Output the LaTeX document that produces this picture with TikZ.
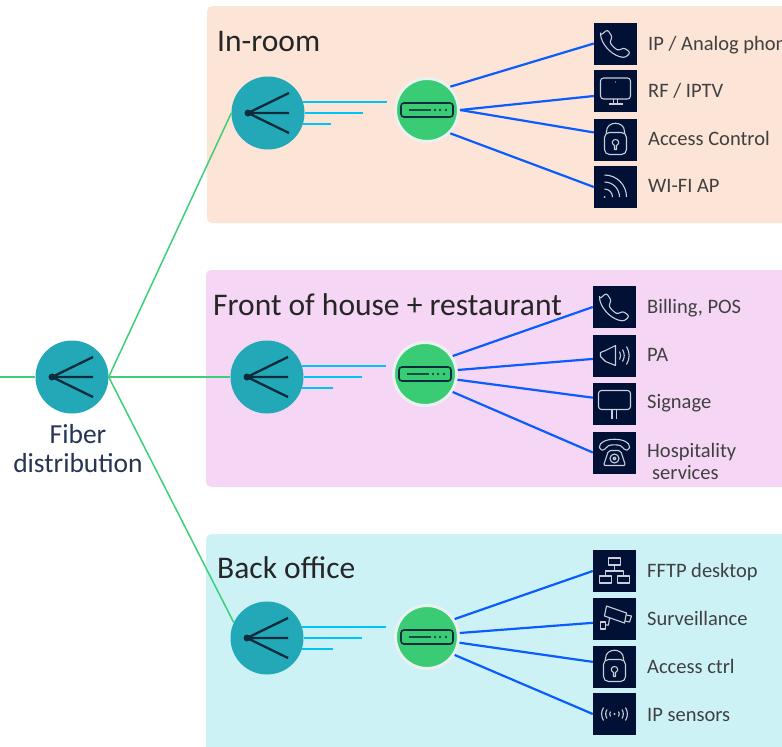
\documentclass[tikz,border=0pt]{standalone}
\usepackage{fontspec}
\setmainfont{Carlito}
\definecolor{roomfill}{HTML}{FCE4D6}
\definecolor{housefill}{HTML}{F6D6F5}
\definecolor{officefill}{HTML}{CDF2F6}
\definecolor{splitfill}{HTML}{22A8B6}
\definecolor{ontfill}{HTML}{3ACC74}
\definecolor{ontring}{HTML}{EBF1F1}
\definecolor{glyphdark}{HTML}{0C2B3C}
\definecolor{feedgreen}{HTML}{3CCF78}
\definecolor{dropcyan}{HTML}{00C4F5}
\definecolor{linkblue}{HTML}{0A5CFF}
\definecolor{iconnavy}{HTML}{001135}
\definecolor{iconline}{HTML}{C9CEDA}
\tikzset{
  panel/.style={rounded corners=5pt},
  splitter/.style={circle, fill=splitfill, minimum size=73pt, inner sep=0pt},
  ont/.style={circle, fill=ontfill, draw=ontring, line width=3pt, minimum size=63pt, inner sep=0pt},
  iconbox/.style={rectangle, fill=iconnavy, minimum width=43pt, minimum height=42pt, inner sep=0pt},
  feed/.style={feedgreen, line width=1.5pt},
  drop/.style={dropcyan, line width=2pt},
  link/.style={linkblue, line width=2.2pt},
  iconstroke/.style={iconline, line width=1.1pt, line join=round},
  title/.style={anchor=base west, inner sep=0pt, text=black!85, font=\fontsize{31.5}{36}\selectfont},
  itemtext/.style={anchor=base west, inner sep=0pt, text=black!75, font=\fontsize{20.5}{24}\selectfont}
}
\newcommand{\splitglyph}[1]{\begin{scope}[shift={(#1.center)}]
  \draw[glyphdark, line width=2.3pt] (21,-20) -- (-20,0) -- (21,20) (-20,0) -- (21,0);
  \fill[glyphdark] (-20,0) circle (3.5);
\end{scope}}
\newcommand{\ontglyph}[1]{\begin{scope}[shift={(#1.center)}]
  \draw[glyphdark, line width=1.6pt, rounded corners=3pt] (-26,-7) rectangle (26,7);
  \draw[glyphdark!80!ontfill, line width=2pt] (-18,0) -- (4,0);
  \fill[glyphdark!80!ontfill] (8,0) circle (1.3) (13,0) circle (1.3) (19,0) circle (1.3);
\end{scope}}
\newcommand{\phoneglyph}[1]{\begin{scope}[shift={(#1.center)}]
  \draw[iconstroke, rounded corners=2.5pt] (-15,-8) -- (-8,-14) -- (-3,-6) -- (-6,-2) .. controls (-3,3) and (1,6) .. (4,7) -- (8,4) -- (15,9) -- (10,14) .. controls (-2,13) and (-12,3) .. cycle;
\end{scope}}
\newcommand{\lockglyph}[1]{\begin{scope}[shift={(#1.center)}]
  \draw[iconstroke, rounded corners=5pt] (-11,-7) rectangle (11,15);
  \draw[iconstroke] (-9,-6) -- (-9,-8) .. controls (-9,-19) and (9,-19) .. (9,-8) -- (9,-6);
  \draw[iconstroke] (-1,6) -- (-1,10) -- (1,10) -- (1,6) .. controls (5,4) and (3,0) .. (0,0) .. controls (-3,0) and (-5,4) .. cycle;
\end{scope}}
\newcommand{\tvglyph}[1]{\begin{scope}[shift={(#1.center)}]
  \draw[iconstroke, rounded corners=3pt] (-15,-13) rectangle (15,8);
  \draw[iconstroke] (-2,8) -- (-2,13) (2,8) -- (2,13) (-7,13) -- (7,13);
  \fill[iconline] (0,-9) circle (0.7);
\end{scope}}
\newcommand{\wifiglyph}[1]{\begin{scope}[shift={(#1.center)}]
  \fill[iconline] (-11,10) circle (1);
  \draw[iconstroke] (-11,2) to[bend left=45] (-3,10);
  \draw[iconstroke] (-11,-5) to[bend left=45] (4,10);
  \draw[iconstroke] (-11,-12) to[bend left=45] (11,10);
\end{scope}}
\newcommand{\speakerglyph}[1]{\begin{scope}[shift={(#1.center)}]
  \draw[iconstroke] (1,-10) -- (1,10) -- (-9,6) -- (-14,1) -- (-14,-3) -- (-9,-5) -- cycle;
  \draw[iconstroke] (5,-4) to[bend left=30] (5,4);
  \draw[iconstroke] (8,-6) to[bend left=30] (8,6);
  \draw[iconstroke] (12,-9) to[bend left=30] (12,9);
\end{scope}}
\newcommand{\signglyph}[1]{\begin{scope}[shift={(#1.center)}]
  \draw[iconstroke, rounded corners=3pt] (-16,-13) rectangle (16,6);
  \draw[iconstroke] (-2.5,6) -- (-2.5,15) (2,6) -- (2,15);
\end{scope}}
\newcommand{\deskphoneglyph}[1]{\begin{scope}[shift={(#1.center)}]
  \draw[iconstroke, rounded corners=2pt] (-11,13) -- (11,13) -- (6,-2) -- (-6,-2) -- cycle;
  \draw[iconstroke, rounded corners=2pt] (-10,-2) -- (-15,-3) .. controls (-16,-16) and (16,-16) .. (15,-3) -- (10,-2) -- (8,-6) .. controls (3,-8) and (-3,-8) .. (-8,-6) -- cycle;
  \draw[iconstroke] (0,6) circle (4.5);
  \draw[iconstroke] (0,6) circle (1.5);
\end{scope}}
\newcommand{\langlyph}[1]{\begin{scope}[shift={(#1.center)}]
  \draw[iconstroke] (-6,-13) rectangle (6,-6);
  \draw[iconstroke] (-15,5) rectangle (-3,12);
  \draw[iconstroke] (3,5) rectangle (15,12);
  \draw[iconstroke] (0,-6) -- (0,0) (-9,5) -- (-9,0) -- (9,0) -- (9,5);
\end{scope}}
\newcommand{\cameraglyph}[1]{\begin{scope}[shift={(#1.center)}]
  \draw[iconstroke] (-8,-13) -- (12,-6) -- (10,4) -- (-10,-3) -- cycle;
  \draw[iconstroke] (12,-4) -- (17,-3) -- (15,3) -- (10.5,2);
  \draw[iconstroke] (-5,-1) -- (-6,6) -- (-9,6);
  \draw[iconstroke] (-14,3) rectangle (-9,10);
\end{scope}}
\newcommand{\sensorglyph}[1]{\begin{scope}[shift={(#1.center)}]
  \fill[iconline] (0,0) circle (1.2);
  \draw[iconstroke] (-4,-2.5) to[bend right=30] (-4,2.5) (4,-2.5) to[bend left=30] (4,2.5);
  \draw[iconstroke] (-7.5,-4.5) to[bend right=30] (-7.5,4.5) (7.5,-4.5) to[bend left=30] (7.5,4.5);
  \draw[iconstroke] (-11,-6.5) to[bend right=30] (-11,6.5) (11,-6.5) to[bend left=30] (11,6.5);
\end{scope}}
\begin{document}
\begin{tikzpicture}[x=1pt, y=-1pt]
\useasboundingbox (0,0) rectangle (782,747);
% panels
\fill[panel, roomfill] (207,6) rectangle (800,223);
\fill[panel, housefill] (206,270) rectangle (800,487);
\fill[panel, officefill] (206,534) rectangle (800,770);
\node[title] (room) at (217,51) {In-room};
\node[title] (house) at (213,315) {Front of house + restaurant};
\node[title] (office) at (217,578) {Back office};
% splitters
\node[splitter] (fib) at (72,377) {};
\node[splitter] (spl1) at (268,113) {};
\node[splitter] (spl2) at (267,377) {};
\node[splitter] (spl3) at (267,638) {};
\node[align=center, inner sep=0pt, text=iconnavy!85!white, font=\fontsize{27.5}{29}\selectfont] (fibtext) at (78,449) {Fiber\\distribution};
\coordinate (in) at (0,377);
\draw[feed] (in) -- (fib.west);
\draw[feed] (fib.east) -- (spl1.west);
\draw[feed] (fib.east) -- (spl2.west);
\draw[feed] (fib.east) -- (spl3.155);
\splitglyph{fib}
\splitglyph{spl1}
\splitglyph{spl2}
\splitglyph{spl3}
% onts
\node[ont] (ont1) at (427,110) {};
\node[ont] (ont2) at (425,374) {};
\node[ont] (ont3) at (427,637) {};
\ontglyph{ont1}
\ontglyph{ont2}
\ontglyph{ont3}
\coordinate (d11) at (387,101);
\coordinate (d12) at (363,112);
\coordinate (d13) at (331,124);
\coordinate (d21) at (386,365);
\coordinate (d22) at (362,376);
\coordinate (d23) at (333,388);
\coordinate (d31) at (386,626);
\coordinate (d32) at (362,637);
\coordinate (d33) at (333,649);
\draw[drop] (spl1.18) -- (spl1.18 -| d11);
\draw[drop] (spl1.east) -- (spl1.east -| d12);
\draw[drop] (spl1.-18) -- (spl1.-18 -| d13);
\draw[drop] (spl2.18) -- (spl2.18 -| d21);
\draw[drop] (spl2.east) -- (spl2.east -| d22);
\draw[drop] (spl2.-18) -- (spl2.-18 -| d23);
\draw[drop] (spl3.18) -- (spl3.18 -| d31);
\draw[drop] (spl3.east) -- (spl3.east -| d32);
\draw[drop] (spl3.-18) -- (spl3.-18 -| d33);
% icons
\node[iconbox] (i11) at (615.5,43.5) {};
\node[iconbox] (i12) at (615.5,91) {};
\node[iconbox] (i13) at (615.5,139.5) {};
\node[iconbox] (i14) at (615.5,187) {};
\node[iconbox] (i21) at (614.5,307) {};
\node[iconbox] (i22) at (614.5,355.5) {};
\node[iconbox] (i23) at (614.5,403.5) {};
\node[iconbox] (i24) at (614.5,452.5) {};
\node[iconbox] (i31) at (614.5,571) {};
\node[iconbox] (i32) at (614.5,619) {};
\node[iconbox] (i33) at (614.5,666.5) {};
\node[iconbox] (i34) at (614.5,714) {};
\phoneglyph{i11}
\tvglyph{i12}
\lockglyph{i13}
\wifiglyph{i14}
\phoneglyph{i21}
\speakerglyph{i22}
\signglyph{i23}
\deskphoneglyph{i24}
\langlyph{i31}
\cameraglyph{i32}
\lockglyph{i33}
\sensorglyph{i34}
\draw[link] (ont1.45) -- (i11.west);
\draw[link] (ont1.east) -- (i12.193);
\draw[link] (ont1.east) -- (i13.162);
\draw[link] (ont1.-45) -- (i14.west);
\draw[link] (ont2.33) -- (i21.west);
\draw[link] (ont2.7) -- (i22.189);
\draw[link] (ont2.-10) -- (i23.165);
\draw[link] (ont2.-33) -- (i24.west);
\draw[link] (ont3.33) -- (i31.west);
\draw[link] (ont3.7) -- (i32.190);
\draw[link] (ont3.-10) -- (i33.168);
\draw[link] (ont3.-33) -- (i34.west);
% labels
\node[itemtext] (t11) at (648,50) {IP / Analog phone};
\node[itemtext] (t12) at (648,97.5) {RF / IPTV};
\node[itemtext] (t13) at (648,145) {Access Control};
\node[itemtext] (t14) at (648,192.5) {WI-FI AP};
\node[itemtext] (t21) at (647,313) {Billing, POS};
\node[itemtext] (t22) at (647,361) {PA};
\node[itemtext] (t23) at (647,408.5) {Signage};
\node[itemtext] (t24) at (647,457) {Hospitality};
\node[itemtext] (t25) at (652,479) {services};
\node[itemtext] (t31) at (647,577) {FFTP desktop};
\node[itemtext] (t32) at (647,625) {Surveillance};
\node[itemtext] (t33) at (647,673) {Access ctrl};
\node[itemtext] (t34) at (647,721) {IP sensors};
\end{tikzpicture}
\end{document}
